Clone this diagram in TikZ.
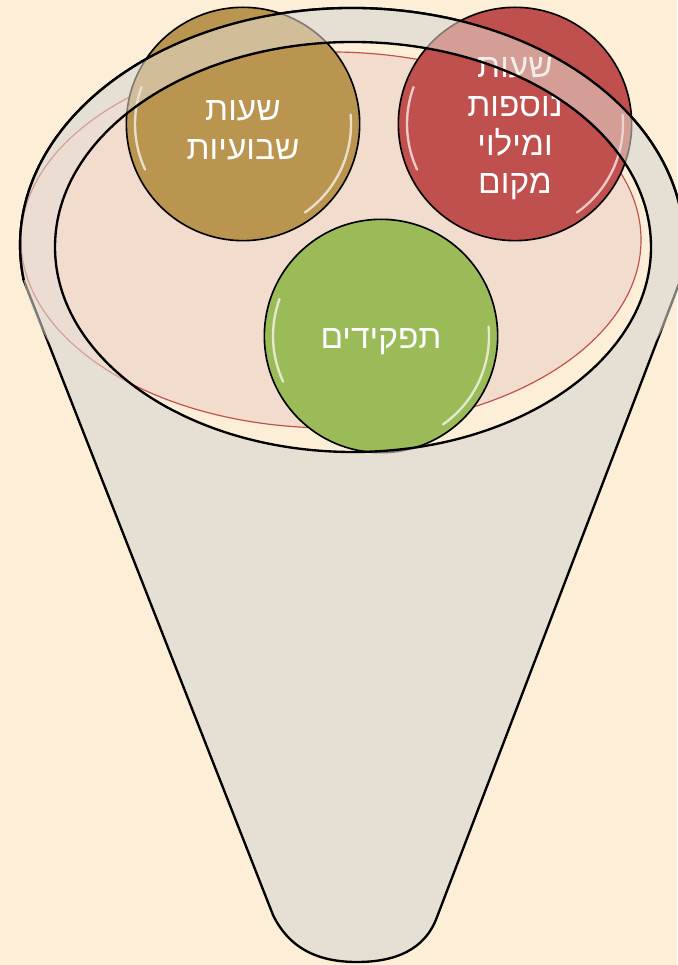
\documentclass[tikz,border=0pt]{standalone}
\usepackage{fontspec}
\newfontfamily\hebfont[Script=Hebrew]{Liberation Sans}
\TeXXeTstate=1
\definecolor{bgcream}{HTML}{FDEED8}
\definecolor{funnelgray}{HTML}{E6DFD4}
\definecolor{rimpink}{HTML}{F2DCCE}
\definecolor{rimred}{HTML}{C0504D}
\definecolor{ballgold}{HTML}{B9954F}
\definecolor{ballred}{HTML}{C0504D}
\definecolor{ballgreen}{HTML}{9BBB59}

\begin{document}
\begin{tikzpicture}[x=0.3mm,y=0.3mm]
	% 样式
	\tikzset{
		ball/.style={
			circle, draw=black, line width=1.4pt,
			minimum size=70mm, inner sep=0pt
		},
		balltext/.style={
			text=white, align=center, inner sep=0pt,
			font=\hebfont\fontsize{28.5}{33}\selectfont
		},
		outline/.style={draw=black, line width=2pt},
		shine/.style={white, line width=2pt, opacity=0.7, line cap=round}
	}
	
	% 背景
	\useasboundingbox (0,0) rectangle (677,965);
	\fill[bgcream] (0,0) rectangle (677,965);
	
	% 漏斗
	\filldraw[fill=funnelgray, outline] (23.6,685) -- (273,50)
		.. controls (290,15) and (320,3) .. (357,3)
		.. controls (395,3) and (425,15) .. (437,48) -- (680.4,685)
		arc[start angle=-8.5, end angle=188.5, x radius=332, y radius=237] -- cycle;
	\fill[bgcream] (353,718) ellipse [x radius=298, y radius=205];
	\filldraw[fill=rimpink, draw=rimred, line width=1pt] (331,725) ellipse [x radius=310, y radius=188];
	
	% 三个球
	\node[ball, fill=ballgold] (weekly) at (243,841) {};
	\node[ball, fill=ballred] (extra) at (515,841) {};
	\node[ball, fill=ballgreen] (roles) at (381,629) {};
	
	% 高光
	\foreach \b in {weekly,extra,roles} {
		\draw[shine] (\b.center) ++(-55:108) arc[start angle=-55, end angle=5, radius=108];
		\draw[shine] (\b.center) ++(160:108) arc[start angle=160, end angle=205, radius=108];
	}
	
	% 文字
	\node[balltext] (weeklytext) at (243,835) {\beginR שעות\endR\\\beginR שבועיות\endR};
	\node[balltext] (extratext) at (515,836) {\beginR שעות\endR\\\beginR נוספות\endR\\\beginR ומילוי\endR\\\beginR מקום\endR};
	\node[balltext] (rolestext) at (381,623) {\beginR תפקידים\endR};
	
	% 漏斗口
	\fill[funnelgray, fill opacity=0.55, even odd rule]
		(352,720) ellipse [x radius=332, y radius=237]
		(353,718) ellipse [x radius=298, y radius=205];
	\draw[outline] (680.4,685) arc[start angle=-8.5, end angle=188.5, x radius=332, y radius=237];
	\draw[outline] (353,718) ellipse [x radius=298, y radius=205];
\end{tikzpicture}
\end{document}
